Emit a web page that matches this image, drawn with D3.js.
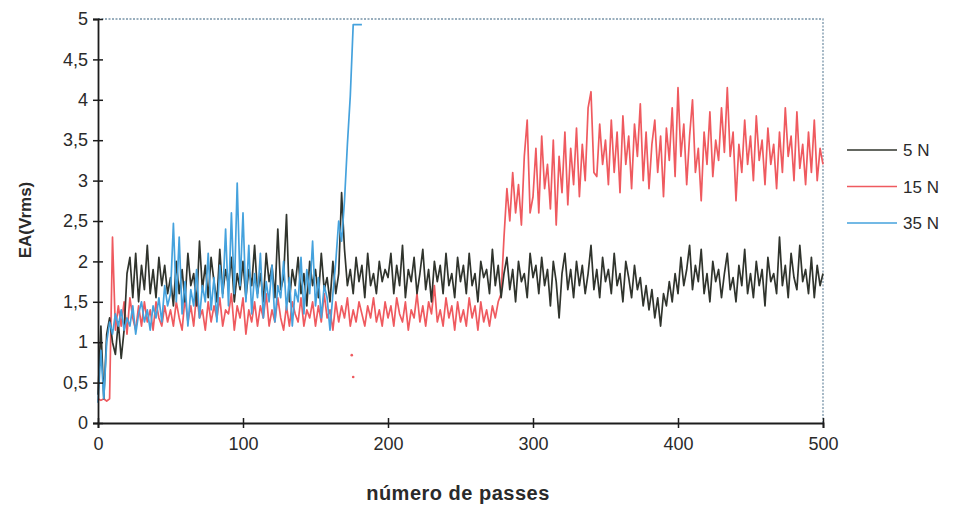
<!DOCTYPE html>
<html>
<head>
<meta charset="utf-8">
<script src="https://cdn.jsdelivr.net/npm/d3@7"></script>
<style>
  body { margin: 0; background: #fff; }
  svg { display: block; font-family: "Liberation Sans", Arial, sans-serif; }
</style>
</head>
<body>
<div id="chart"></div>
<script>
// values, one every 2 passes
const step = 2;
const seriesNames = ["5 N", "15 N", "35 N"];

const ea5N = [
  0.35, 1.2, 0.3, 1.1, 1.3, 1.0, 0.85, 1.25, 0.8, 1.15, 1.85, 2.05, 1.55, 2.1, 1.5, 1.95, 1.65, 2.2, 1.6, 1.9, 1.55, 2.05, 1.7, 1.95, 1.6,
  1.8, 1.45, 2.0, 1.6, 1.9, 1.5, 2.1, 1.7, 1.85, 1.45, 2.25, 1.65, 1.95, 1.55, 2.05, 1.75, 1.5, 2.15, 1.6, 1.9, 1.7, 2.05, 1.5, 1.85, 1.65,
  2.0, 1.55, 1.9, 1.7, 2.2, 1.6, 1.85, 1.5, 2.1, 1.75, 1.95, 1.55, 2.4, 1.65, 1.8, 2.58, 1.5, 1.9, 1.7, 2.05, 1.6, 1.85, 1.45, 2.0, 1.7,
  1.9, 1.55, 2.1, 1.65, 1.8, 1.5, 2.0, 1.6, 1.85, 2.85, 2.15, 1.7, 1.9, 1.6, 2.05, 1.75, 1.95, 1.55, 2.1, 1.7, 1.85, 1.6, 2.0, 1.75, 1.9,
  1.8, 2.1, 1.6, 1.95, 1.7, 2.2, 1.55, 1.9, 1.75, 2.05, 1.6, 1.85, 2.15, 1.65, 1.9, 1.5, 2.0, 1.75, 1.95, 1.6, 2.1, 1.7, 1.85, 1.55, 2.05,
  1.75, 1.95, 1.6, 2.1, 1.7, 1.85, 1.5, 2.0, 1.8, 1.9, 1.6, 2.15, 1.7, 1.95, 1.55, 1.85, 2.05, 1.65, 1.9, 1.5, 2.0, 1.75, 1.85, 1.55, 2.1,
  1.8, 1.95, 1.6, 2.05, 1.7, 1.9, 1.45, 2.0, 1.75, 1.3, 1.85, 2.1, 1.65, 1.9, 1.55, 2.0, 1.7, 1.95, 1.6, 1.85, 2.2, 1.65, 1.9, 1.55, 2.05,
  1.75, 1.9, 1.6, 2.1, 1.7, 1.85, 1.5, 2.0, 1.8, 1.55, 1.95, 1.65, 1.8, 1.45, 1.7, 1.4, 1.65, 1.3, 1.55, 1.2, 1.6, 1.45, 1.75, 1.5, 1.85,
  1.6, 2.05, 1.7, 1.9, 2.2, 1.65, 1.95, 1.75, 2.15, 1.6, 1.85, 1.5, 2.0, 1.75, 1.9, 1.55, 1.85, 2.1, 1.65, 1.8, 1.5, 1.95, 1.7, 2.15, 1.6,
  1.85, 1.55, 2.0, 1.7, 1.9, 1.45, 2.05, 1.75, 1.85, 1.6, 2.3, 1.7, 1.95, 1.55, 2.1, 1.8, 1.65, 2.2, 1.75, 1.9, 1.6, 2.05, 1.55, 1.95, 1.7, 1.85
];

const ea15N = [
  0.3, 0.28, 0.3, 0.27, 0.3, 2.3, 1.15, 1.45, 1.2, 1.5, 1.1, 1.55, 1.3, 1.15, 1.45, 1.2, 1.5, 1.25, 1.4, 1.15, 1.5, 1.3, 1.2, 1.45, 1.25,
  1.4, 1.2, 1.5, 1.3, 1.15, 1.55, 1.25, 1.45, 1.2, 1.6, 1.3, 1.4, 1.15, 1.5, 1.25, 1.45, 1.3, 1.55, 1.2, 1.4, 1.35, 1.6, 1.15, 1.45, 1.3,
  1.55, 1.1, 1.4, 1.25, 1.5, 1.2, 1.45, 1.3, 1.6, 1.2, 1.4, 1.25, 1.55, 1.3, 1.15, 1.45, 1.2, 1.5, 1.35, 1.25, 1.55, 1.2, 1.4, 1.3, 1.5,
  1.2, 1.45, 1.25, 1.6, 1.3, 1.4, 1.15, 1.5, 1.25, 1.45, 1.3, 1.55, 1.2, 1.4, 1.25, 1.5, 1.35, 1.2, 1.45, 1.3, 1.55, 1.25, 1.4, 1.2, 1.5,
  1.3, 1.45, 1.2, 1.55, 1.35, 1.25, 1.5, 1.15, 1.4, 1.3, 1.6, 1.25, 1.45, 1.2, 1.5, 1.35, 1.7, 1.25, 1.4, 1.2, 1.55, 1.3, 1.45, 1.15, 1.5,
  1.25, 1.4, 1.2, 1.55, 1.3, 1.45, 1.15, 1.5, 1.25, 1.4, 1.2, 1.45, 1.3, 1.5, 1.6, 2.3, 2.9, 2.5, 3.1, 2.6, 2.95, 2.45, 3.3, 3.75, 2.6,
  2.8, 3.4, 2.6, 3.55, 2.9, 3.2, 2.65, 3.5, 2.45, 3.3, 2.85, 3.6, 2.7, 3.4, 2.95, 3.65, 2.8, 3.45, 3.0, 3.9, 4.1, 3.1, 3.05, 3.7, 3.2,
  3.5, 2.95, 3.75, 3.1, 3.6, 2.85, 3.8, 3.2, 3.55, 2.9, 3.7, 3.3, 3.95, 3.0, 3.6, 2.9, 3.45, 3.75, 3.1, 3.55, 2.8, 3.65, 3.25, 3.9, 3.05,
  4.15, 3.3, 3.7, 2.95, 3.55, 4.0, 3.1, 3.4, 2.75, 3.6, 3.2, 3.85, 3.05, 3.5, 3.25, 3.9, 3.35, 4.15, 3.3, 3.6, 2.75, 3.45, 3.1, 3.75, 3.2,
  3.55, 3.0, 3.8, 3.25, 3.5, 2.95, 3.65, 3.2, 3.45, 2.9, 3.6, 3.1, 3.9, 3.3, 3.55, 3.0, 3.85, 3.15, 3.45, 2.95, 3.6, 3.1, 3.75, 3.0, 3.4, 3.2
];
// two loose 15 N points below the band, [pass, value]
const stray15N = [[175, 0.84], [176, 0.57]];

const ea35N = [
  0.25, 0.9, 0.3, 1.0, 1.25, 1.1, 1.35, 1.2, 1.4, 1.15, 1.3, 1.2, 1.45, 1.1, 1.35, 1.5, 1.25, 1.4, 1.15, 1.45, 1.3, 1.55, 1.25, 1.7, 1.45,
  1.6, 2.47, 1.5, 2.3, 1.35, 1.75, 1.2, 1.65, 1.45, 1.9, 1.3, 1.7, 1.5, 2.1, 1.4, 1.8, 1.25, 1.95, 1.55, 2.4, 1.45, 2.6, 1.6, 2.97, 1.7,
  2.6, 1.5, 2.2, 1.35, 1.85, 1.55, 2.1, 1.3, 1.75, 1.5, 1.95, 1.25, 1.7, 1.55, 2.0, 1.4, 1.8, 1.2, 1.65, 1.5, 2.05, 1.35, 1.9, 1.6, 2.25,
  1.45, 1.8, 1.3, 1.7, 1.55, 1.15, 1.6, 2.0, 2.5, 2.25, 2.75, 3.45, 4.05, 4.93, 4.93, 4.93, 4.93
];

const xTicks = [0, 100, 200, 300, 400, 500];
const yTicks = [0, 0.5, 1, 1.5, 2, 2.5, 3, 3.5, 4, 4.5, 5];
const colors = ["#30342d", "#ef5a5f", "#45a2dd"];

let width = 954, height = 509;
let mLeft = 98, mRight = 823, mTop = 19, mBottom = 423;

let svg = d3.select("#chart").append("svg")
  .attr("width", width)
  .attr("height", height);

let x = d3.scaleLinear().domain([0, 500]).range([mLeft, mRight]);
let y = d3.scaleLinear().domain([0, 5]).range([mBottom, mTop]);

// dotted frame on top and right
svg.append("path")
  .attr("d", "M" + mLeft + "," + mTop + "H" + mRight + "V" + mBottom)
  .attr("fill", "none")
  .attr("stroke", "#7894a8")
  .attr("stroke-width", 1.3)
  .attr("stroke-dasharray", "2,1.5");

let line = d3.line()
  .x(function(d, i) { return x(i * step); })
  .y(function(d) { return y(d); });

// red behind, then black, blue on top
let order = [1, 0, 2];
let all = [ea5N, ea15N, ea35N];
order.forEach(function(k) {
  svg.append("path")
    .datum(all[k])
    .attr("fill", "none")
    .attr("stroke", colors[k])
    .attr("stroke-width", 1.7)
    .attr("stroke-linejoin", "round")
    .attr("d", line);
});

svg.selectAll("circle.stray")
  .data(stray15N)
  .enter().append("circle")
  .attr("class", "stray")
  .attr("cx", function(d) { return x(d[0]); })
  .attr("cy", function(d) { return y(d[1]); })
  .attr("r", 1.3)
  .attr("fill", colors[1]);

// axes
let yAxis = d3.axisLeft(y)
  .tickValues(yTicks)
  .tickSize(5)
  .tickPadding(5)
  .tickFormat(function(d) { return String(d).replace(".", ","); });
let yg = svg.append("g")
  .attr("transform", "translate(" + mLeft + ",0)")
  .call(yAxis);

let xAxis = d3.axisBottom(x)
  .tickValues(xTicks)
  .tickSize(5)
  .tickPadding(9)
  .tickFormat(d3.format("d"));
let xg = svg.append("g")
  .attr("transform", "translate(0," + mBottom + ")")
  .call(xAxis);

[yg, xg].forEach(function(g) {
  g.select(".domain").attr("stroke", "#1c1c1c").attr("stroke-width", 1.8);
  g.selectAll(".tick line").attr("stroke", "#1c1c1c").attr("stroke-width", 1.5);
  g.selectAll(".tick text")
    .attr("fill", "#2a2a2a")
    .style("font-size", "18px");
});
// ticks cross the axis line
yg.selectAll(".tick line").attr("x1", 5);
xg.selectAll(".tick line").attr("y1", -5);

// axis titles
svg.append("text")
  .attr("transform", "translate(31,220) rotate(-90)")
  .attr("text-anchor", "middle")
  .attr("fill", "#2a2a2a")
  .style("font-size", "17px")
  .style("font-weight", "bold")
  .text("EA(Vrms)");

svg.append("text")
  .attr("x", 458)
  .attr("y", 500)
  .attr("text-anchor", "middle")
  .attr("fill", "#2a2a2a")
  .style("font-size", "20px")
  .style("font-weight", "bold")
  .style("letter-spacing", "0.5px")
  .text("número de passes");

// legend
let legend = svg.append("g").attr("transform", "translate(847,150)");
seriesNames.forEach(function(name, i) {
  legend.append("line")
    .attr("x1", 0).attr("x2", 50)
    .attr("y1", i * 36.5).attr("y2", i * 36.5)
    .attr("stroke", colors[i])
    .attr("stroke-width", 1.6);
  legend.append("text")
    .attr("x", 56)
    .attr("y", i * 36.5 + 6)
    .attr("fill", "#2a2a2a")
    .style("font-size", "17px")
    .text(name);
});
</script>
</body>
</html>
